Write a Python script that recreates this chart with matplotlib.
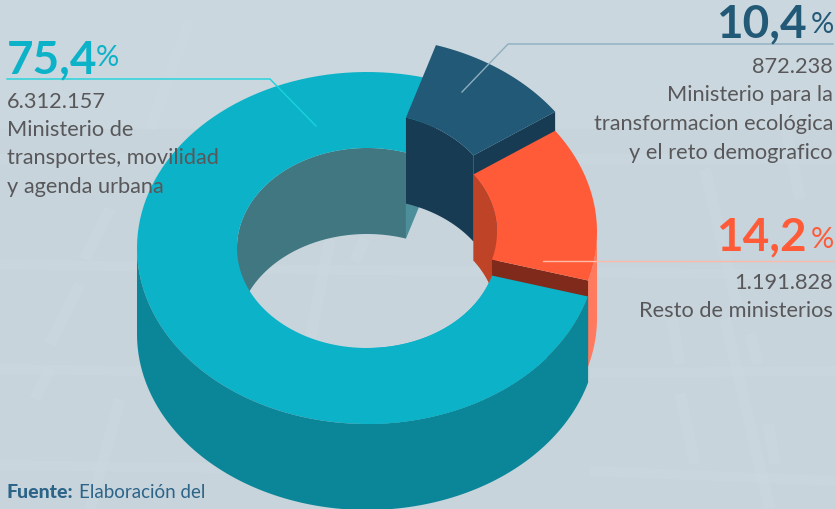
import matplotlib
matplotlib.use("Agg")
import matplotlib.pyplot as plt
import numpy as np

# Datos
porcentajes = [75.4, 14.2, 10.4]
importes = ["6.312.157", "1.191.828", "872.238"]
etiquetas_pct = ["75,4", "14,2", "10,4"]
ministerios = ["Ministerio de\ntransportes, movilidad\ny agenda urbana",
               "Resto de ministerios",
               "Ministerio para la\ntransformacion ecológica\ny el reto demografico"]

# Colores: superficie, lateral exterior, pared interior, corte
c_cian = ["#0CB2C8", "#0A8698", "#417780", "#4D8E9B"]
c_naranja = ["#FF5B38", "#FF7A5F", "#BF4327", "#7F2A1A"]
c_azul = ["#225977", "#173B52", "#173B52", "#173B52"]
fondo = "#C7D4DC"
texto = "#58585A"

# Geometria del donut en pixeles
cx, cy = 367, 249
rx_out, ry_out = 230, 176
rx_in, ry_in = 130, 100
prof = 86
salto_naranja = -16
salto_azul = -35
inicio = -16  # angulo donde empieza el sector naranja

a_naranja = inicio + porcentajes[1] * 3.6
a_azul = a_naranja + porcentajes[2] * 3.6
a_cian = a_azul + porcentajes[0] * 3.6


def arco(a0, a1, rx, ry, dy=0):
    t = np.radians(np.linspace(a0, a1, 120))
    return cx + rx * np.cos(t), cy - ry * np.sin(t) + dy


def cara_sup(ax, a0, a1, color, dy=0, z=2):
    x1, y1 = arco(a0, a1, rx_out, ry_out, dy)
    x2, y2 = arco(a1, a0, rx_in, ry_in, dy)
    ax.fill(np.r_[x1, x2], np.r_[y1, y2], color=color, lw=0, zorder=z)


def pared(ax, a0, a1, rx, ry, color, dy=0, z=2):
    x1, y1 = arco(a0, a1, rx, ry, dy)
    x2, y2 = arco(a1, a0, rx, ry, dy + prof)
    ax.fill(np.r_[x1, x2], np.r_[y1, y2], color=color, lw=0, zorder=z)


def corte(ax, a, color, dy=0, z=2):
    t = np.radians(a)
    xi, yi = cx + rx_in * np.cos(t), cy - ry_in * np.sin(t) + dy
    xo, yo = cx + rx_out * np.cos(t), cy - ry_out * np.sin(t) + dy
    ax.fill([xi, xo, xo, xi], [yi, yo, yo + prof, yi + prof], color=color, lw=0, zorder=z)


fig = plt.figure(figsize=(8.37, 5.10), dpi=100, facecolor=fondo)
ax = fig.add_axes([0, 0, 1, 1])
ax.set_xlim(0, 837)
ax.set_ylim(510, 0)
ax.axis("off")

# Fondo: rejilla muy tenue de la foto
ax.axhspan(0, 130, color="#CEDAE1", alpha=0.6, lw=0, zorder=0)
barras_h = [(0, 265, 160, 268), (240, 270, 837, 276), (590, 374, 837, 372), (590, 472, 837, 482),
            (0, 370, 140, 372), (0, 466, 280, 470), (0, 160, 837, 160)]
barras_d = [(110, 210, 85, 260), (80, 285, 50, 345), (50, 370, 35, 400), (672, 320, 680, 365),
            (680, 395, 695, 465), (725, 320, 770, 510), (750, 335, 758, 365), (768, 425, 775, 465),
            (330, 240, 310, 340), (365, 240, 355, 262), (705, 170, 740, 320), (190, 20, 150, 130),
            (780, 100, 800, 200), (120, 400, 90, 510)]
for x0, y0, x1, y1 in barras_h:
    ax.plot([x0, x1], [y0, y1], color="#CCD9E0", lw=7, alpha=0.5, solid_capstyle="butt", zorder=0)
for x0, y0, x1, y1 in barras_d:
    ax.plot([x0, x1], [y0, y1], color="#CCD9E0", lw=8, alpha=0.6, solid_capstyle="butt", zorder=0)

# Sector cian, parte trasera
pared(ax, a_azul, 180, rx_in, ry_in, c_cian[2], z=2)
corte(ax, a_azul, c_cian[3], z=2)
cara_sup(ax, a_azul, a_cian, c_cian[0], z=3)

# Sector azul, separado hacia arriba
pared(ax, a_naranja, a_azul, rx_in, ry_in, c_azul[2], dy=salto_azul, z=4)
corte(ax, a_naranja, c_azul[3], dy=salto_azul, z=4)
cara_sup(ax, a_naranja, a_azul, c_azul[0], dy=salto_azul, z=5)

# Sector naranja
pared(ax, 0, a_naranja, rx_in, ry_in, c_naranja[2], dy=salto_naranja, z=6)
pared(ax, inicio, 0, rx_out, ry_out, c_naranja[1], dy=salto_naranja, z=6)
corte(ax, inicio, c_naranja[3], dy=salto_naranja, z=7)
cara_sup(ax, inicio, a_naranja, c_naranja[0], dy=salto_naranja, z=8)

# Sector cian, parte delantera encima del naranja
pared(ax, 180, a_cian, rx_out, ry_out, c_cian[1], z=9)
cara_sup(ax, 270, a_cian, c_cian[0], z=10)

# Lineas guia
ax.plot([7, 270, 316], [80, 80, 127], color="#19D3DC", lw=1, zorder=11)
ax.plot([833, 508, 462], [45, 45, 93], color="#8FAEC0", lw=1, zorder=11)
ax.plot([543, 833], [262, 262], color="#FFB9A8", lw=1, zorder=11)

# Textos
fuente = "Lato"
tam = 15.7
ax.text(7, 73, etiquetas_pct[0], fontsize=33, fontweight="bold", color=c_cian[0],
        family=fuente, ha="left", va="baseline", zorder=12)
ax.text(96, 66, "%", fontsize=21, color=c_cian[0], family=fuente, ha="left", va="baseline", zorder=12)
ax.text(7, 108, importes[0], fontsize=tam, color=texto, family=fuente, va="baseline", zorder=12)
for i, linea in enumerate(ministerios[0].split("\n")):
    ax.text(7, 136 + i * 28.5, linea, fontsize=tam, color=texto, family=fuente, va="baseline", zorder=12)

ax.text(807, 37, etiquetas_pct[2], fontsize=33, fontweight="bold", color=c_azul[0],
        family=fuente, ha="right", va="baseline", zorder=12)
ax.text(834, 33, "%", fontsize=21, color=c_azul[0], family=fuente, ha="right", va="baseline", zorder=12)
ax.text(833, 73, importes[2], fontsize=tam, color=texto, family=fuente, ha="right", va="baseline", zorder=12)
for i, linea in enumerate(ministerios[2].split("\n")):
    ax.text(833, 101 + i * 29, linea, fontsize=tam, color=texto, family=fuente, ha="right", va="baseline", zorder=12)

ax.text(807, 250, etiquetas_pct[1], fontsize=33, fontweight="bold", color=c_naranja[0],
        family=fuente, ha="right", va="baseline", zorder=12)
ax.text(834, 248, "%", fontsize=21, color=c_naranja[0], family=fuente, ha="right", va="baseline", zorder=12)
ax.text(833, 289, importes[1], fontsize=tam, color=texto, family=fuente, ha="right", va="baseline", zorder=12)
ax.text(833, 317, ministerios[1], fontsize=tam, color=texto, family=fuente, ha="right", va="baseline", zorder=12)

ax.text(7, 498, "Fuente:", fontsize=14, fontweight="black", color="#2C6488", family=fuente, va="baseline", zorder=12)
ax.text(79, 498, "Elaboración del", fontsize=13.5, color="#2C6488", family=fuente, va="baseline", zorder=12)

fig.savefig("out.png", dpi=100, facecolor=fondo)
